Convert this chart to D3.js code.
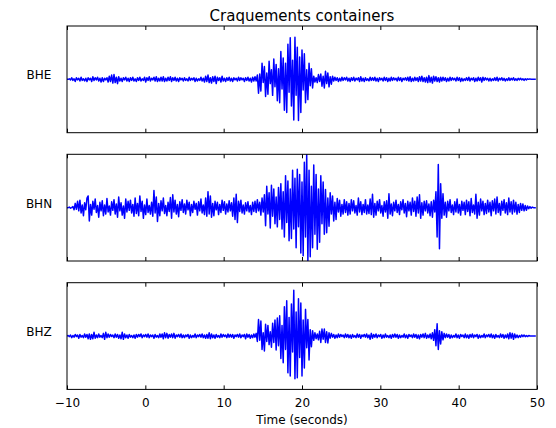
<!DOCTYPE html>
<html>
<head>
<meta charset="utf-8">
<script src="https://cdn.jsdelivr.net/npm/d3@7"></script>
<style>
  html, body { margin: 0; padding: 0; background: #fff; }
  svg { display: block; font-family: "DejaVu Sans", sans-serif; }
</style>
</head>
<body>
<svg id="chart" width="556" height="428"></svg>
<script>
// Three-component record, sampled every 0.15 s starting at -10 s
const startTime = -10;
const sampleInterval = 0.15;

const channels = ["BHE", "BHN", "BHZ"];

const bhe = [
  0,0,1,-1,3,-2,1,-4,3,-1,2,-3,4,-2,1,-3,2,-4,3,-1,
  2,-4,5,-2,3,-1,4,-3,2,-5,3,-4,2,-1,3,-5,6,-4,8,-7,
  9,-6,4,-8,5,-3,2,-4,3,-1,4,-3,2,-4,3,-2,4,-3,1,-4,
  3,-2,4,-3,1,-2,4,-5,3,-2,5,-3,2,-1,4,-3,5,-4,2,-3,
  4,-3,5,-4,2,-3,4,-2,5,-4,3,-2,4,-3,2,-4,3,-1,2,-3,
  3,-2,1,-3,4,-2,2,-1,3,-4,2,-3,1,-2,4,-3,2,-5,6,-4,
  8,-6,3,-7,5,-4,6,-8,4,-2,3,-5,6,-3,2,-4,3,-2,4,-3,
  2,-4,3,-1,2,-3,4,-2,3,-1,2,-4,3,-2,4,-3,2,-5,4,-3,
  5,-3,8,-26,10,-22,30,-6,24,-32,12,-28,34,-8,18,-30,38,-14,28,-40,
  20,-44,52,-18,40,-58,30,-62,66,-24,78,-50,36,-76,79,-30,60,-77,42,-62,
  55,-20,48,-44,18,-38,30,-12,20,-16,6,-5,3,-6,9,-4,10,-13,6,-16,
  15,-8,12,-14,5,-9,6,-3,4,-2,3,-4,2,-3,4,-2,3,-1,4,-3,
  2,-4,3,-2,4,-3,2,-1,3,-4,5,-3,2,-4,3,-2,1,-3,4,-2,
  3,-2,4,-3,2,-4,3,-1,2,-3,4,-2,3,-4,2,-3,4,-2,3,-1,
  2,-3,4,-2,3,-4,2,-1,3,-2,4,-3,5,-4,2,-3,4,-2,3,-4,
  5,-3,6,-4,3,-5,4,-6,7,-5,4,-7,6,-3,5,-4,3,-5,4,-3,
  4,-2,3,-4,2,-3,4,-2,3,-1,2,-3,4,-2,3,-4,2,-3,1,-2,
  3,-2,4,-3,2,-1,3,-4,2,-3,4,-2,3,-5,4,-2,3,-1,2,-3,
  2,-3,1,-2,3,-2,4,-3,2,-1,3,-2,2,-3,1,-2,3,-2,2,-1,
  3,-2,1,-2,2,-1,2,-1,1,-2,1,-1,1,0,1,0,0,0,0,0
];

const bhn = [
  0,0,1,-1,0,2,-4,8,-3,12,-6,14,-10,5,-15,9,-4,18,22,-25,
  6,-14,12,-3,16,-9,4,-18,10,-6,13,-15,5,-12,17,-8,3,-14,11,-5,
  15,-12,7,-18,20,-6,9,-14,3,-20,16,-8,12,-5,14,-10,6,-16,18,-11,
  8,-15,22,-7,12,-20,5,-13,16,-9,4,-12,10,-16,32,-10,20,-26,8,-15,
  13,-6,18,-11,4,-15,10,-7,19,-20,24,-8,14,-12,6,-17,11,-5,15,-9,
  7,-12,14,-4,10,-15,6,-9,12,-3,8,-14,11,-6,16,-10,5,-13,18,-16,
  30,-12,22,-18,8,-15,12,-4,10,-13,6,-9,14,-5,11,-12,7,-8,13,-6,
  9,-16,18,-22,25,-28,12,-7,14,-10,5,-12,9,-6,11,-8,4,-13,10,-7,
  12,-9,15,-6,10,-14,18,-8,24,-34,40,-12,28,-38,42,-16,35,-30,20,-36,
  38,-22,45,-40,30,-55,60,-28,50,-62,35,-58,70,-40,55,-75,72,-36,62,-85,
  48,-90,85,-55,100,-100,70,-92,40,-75,80,-50,62,-78,35,-65,60,-30,48,-50,
  34,-47,18,-35,28,-12,22,-25,10,-22,17,-8,14,-16,6,-12,15,-9,11,-14,
  8,-12,15,-6,13,-10,4,-14,18,-8,11,-13,6,-9,15,-12,5,-11,16,-13,
  25,-18,8,-14,12,-6,15,-10,4,-16,11,-8,13,-20,26,-12,7,-15,10,-6,
  14,-9,6,-13,11,-4,15,-10,8,-17,12,-6,10,-14,18,-7,12,-16,20,-10,
  24,-20,9,-14,12,-6,13,-10,7,-15,11,-18,14,-8,30,-55,81,-77,45,-20,
  26,-14,10,-18,12,-6,15,-9,5,-13,11,-8,16,-10,6,-14,12,-5,10,-13,
  14,-7,11,-15,17,-9,5,-12,25,-20,10,-14,16,-6,12,-13,8,-11,14,-8,
  10,-15,13,-6,16,-12,20,-9,8,-14,12,-5,15,-10,9,-13,18,-8,11,-12,
  14,-8,10,-12,6,-9,8,-5,7,-6,4,-5,3,-2,2,-1,1,0,0,0
];

const bhz = [
  0,1,-1,2,-3,1,-2,3,-1,2,-4,3,-2,1,-3,4,-2,3,-5,4,
  -6,3,-5,7,-4,2,-3,4,-2,1,-3,5,-6,7,-3,4,-2,3,-1,2,
  -3,4,-2,3,-4,2,-5,7,-6,4,-3,2,-4,3,-2,1,-3,2,-4,3,
  -2,3,-1,4,-3,2,-1,3,-2,4,-3,2,-1,2,-4,3,-2,1,-3,4,
  -2,4,-5,6,-3,5,-4,3,-2,4,-3,5,-4,2,-1,3,-2,4,-3,2,
  -3,2,-1,3,-4,2,-3,1,-2,4,-3,2,-1,3,-2,4,-3,2,-4,3,
  -4,6,-5,4,-3,2,-4,3,-2,1,-3,4,-2,3,-1,2,-3,4,-2,3,
  -2,3,-4,2,-1,3,-2,4,-3,2,-1,3,-5,4,-2,3,-4,2,-3,4,
  -2,5,-10,31,-8,28,-25,6,-28,22,-10,20,-16,8,-21,24,-12,30,-26,34,
  -18,38,-42,20,-50,55,-25,66,-69,35,-75,60,-30,86,-80,45,-78,70,-40,62,
  -75,30,-60,50,-22,31,-45,12,-20,10,-8,6,-5,4,-7,9,-12,13,-6,13,
  -12,8,-13,6,-4,5,-2,3,-4,2,-3,4,-2,3,-1,2,-3,4,-2,3,
  -3,2,-4,3,-2,1,-3,4,-2,3,-4,2,-1,3,-2,4,-3,2,-6,5,
  -4,3,-2,4,-3,2,-1,3,-4,2,-3,4,-2,1,-3,2,-4,3,-2,4,
  -2,3,-4,2,-3,1,-2,4,-3,2,-4,3,-1,2,-3,4,-2,3,-4,2,
  -5,3,-2,4,-3,5,-4,2,-3,4,-5,6,-8,12,-18,23,-25,10,-15,8,
  -7,5,-3,4,-2,3,-4,2,-3,1,-2,4,-3,2,-4,3,-1,2,-3,4,
  -3,2,-4,3,-2,4,-3,2,-1,3,-4,2,-3,1,-2,4,-3,2,-1,3,
  -2,4,-3,2,-4,3,-2,1,-3,4,-2,3,-4,2,-3,4,-5,6,-4,5,
  -6,4,-3,2,-3,1,-2,2,-1,2,-1,1,-1,1,0,0,0,0,0,0
];

const traces = [bhe, bhn, bhz];
const xTicks = [-10, 0, 10, 20, 30, 40, 50];
const title = "Craquements containers";
const xLabel = "Time (seconds)";

const svg = d3.select("#chart");
const left = 67, right = 537;
const panelTop = [26, 154.3, 282.7];
const panelH = 106.7;

const x = d3.scaleLinear().domain([-10, 50]).range([left, right]);

svg.append("text")
  .attr("x", (left + right) / 2).attr("y", 21)
  .attr("text-anchor", "middle")
  .attr("font-size", 15).attr("fill", "#000")
  .text(title);

traces.forEach((vals, k) => {
  const top = panelTop[k];
  const y = d3.scaleLinear().domain([-100, 100]).range([top + panelH, top]);
  const g = svg.append("g");

  const clipId = "clip" + k;
  svg.append("clipPath").attr("id", clipId)
    .append("rect").attr("x", left).attr("y", top)
    .attr("width", right - left).attr("height", panelH);

  const line = d3.line()
    .x((d, i) => x(startTime + i * sampleInterval))
    .y(d => y(d));

  g.append("path")
    .datum(vals)
    .attr("clip-path", `url(#${clipId})`)
    .attr("fill", "none")
    .attr("stroke", "#0000ff")
    .attr("stroke-width", 1.5)
    .attr("stroke-linejoin", "round")
    .attr("d", line);

  // ticks pointing inward at top and bottom
  const bottomAxis = d3.axisBottom(x).tickValues(xTicks).tickSizeInner(-4).tickSizeOuter(0)
    .tickFormat(k === 2 ? (d => d < 0 ? "\u2212" + Math.abs(d) : d) : "");
  const ax = g.append("g").attr("transform", `translate(0,${top + panelH})`).call(bottomAxis);
  ax.select(".domain").remove();
  ax.selectAll(".tick line").attr("stroke", "#000");
  ax.selectAll(".tick text").attr("y", 9).attr("font-size", 12)
    .attr("fill", "#000").attr("font-family", "DejaVu Sans, sans-serif");

  const topAxis = d3.axisTop(x).tickValues(xTicks).tickSizeInner(-4).tickSizeOuter(0).tickFormat("");
  const at = g.append("g").attr("transform", `translate(0,${top})`).call(topAxis);
  at.select(".domain").remove();
  at.selectAll(".tick line").attr("stroke", "#000");

  g.append("rect")
    .attr("x", left).attr("y", top)
    .attr("width", right - left).attr("height", panelH)
    .attr("fill", "none").attr("stroke", "#000").attr("stroke-width", 1);

  g.append("text")
    .attr("x", 39).attr("y", y(0))
    .attr("text-anchor", "middle")
    .attr("font-size", 12).attr("fill", "#000")
    .text(channels[k]);
});

svg.append("text")
  .attr("x", (left + right) / 2).attr("y", 424)
  .attr("text-anchor", "middle")
  .attr("font-size", 12).attr("fill", "#000")
  .text(xLabel);
</script>
</body>
</html>
